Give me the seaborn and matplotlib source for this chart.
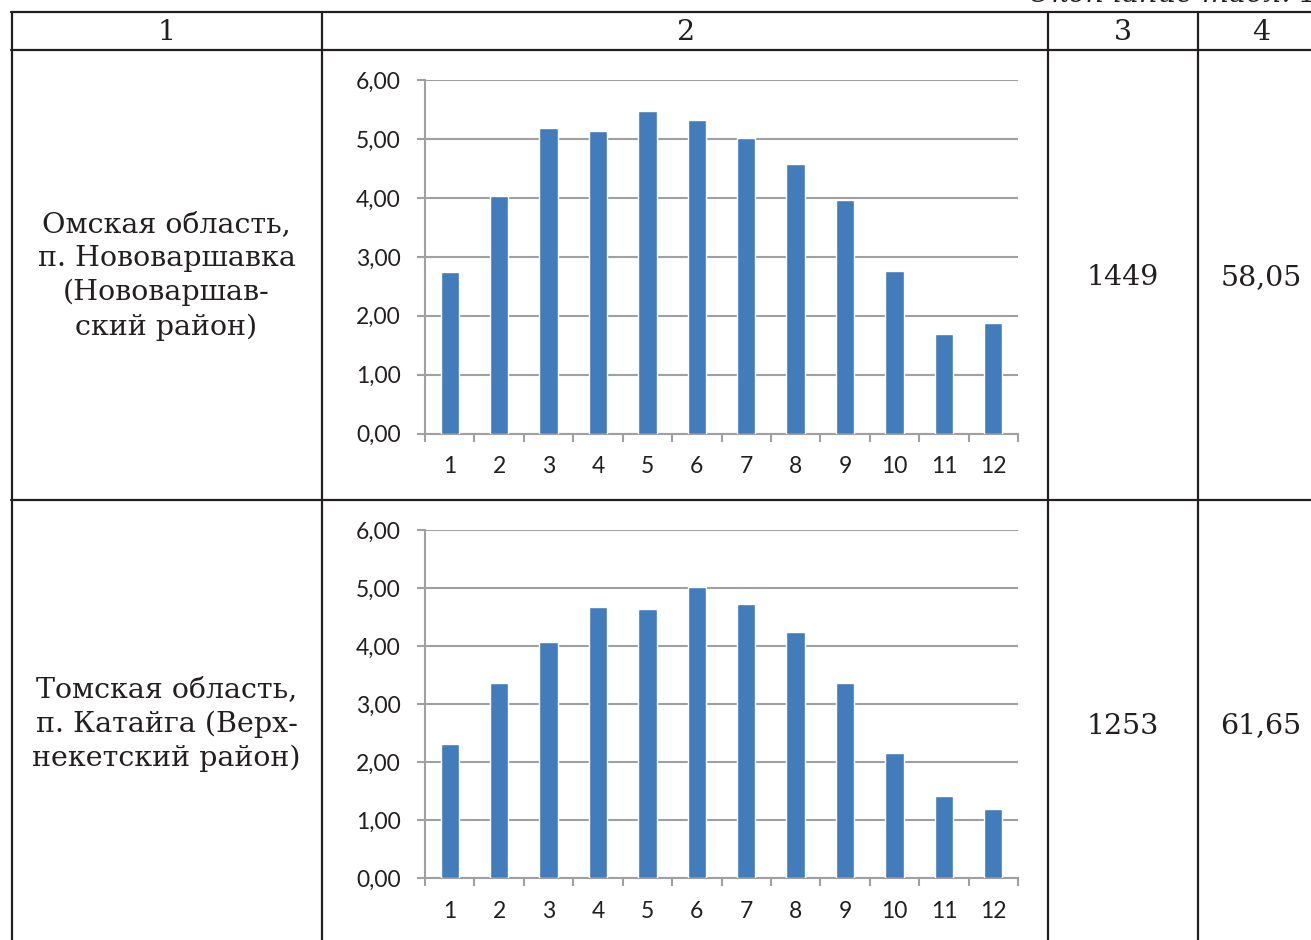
import matplotlib
matplotlib.use("Agg")
import matplotlib.pyplot as plt
from matplotlib.lines import Line2D
import seaborn as sns
import pandas as pd

# Monthly values for the two sites
months = [1, 2, 3, 4, 5, 6, 7, 8, 9, 10, 11, 12]
omsk_values = [2.74, 4.04, 5.19, 5.13, 5.47, 5.32, 5.02, 4.57, 3.97, 2.76, 1.69, 1.88]
tomsk_values = [2.31, 3.36, 4.07, 4.67, 4.64, 5.02, 4.72, 4.25, 3.36, 2.16, 1.41, 1.19]

y_ticks = [0, 1, 2, 3, 4, 5, 6]
y_tick_labels = ["0,00", "1,00", "2,00", "3,00", "4,00", "5,00", "6,00"]

header_labels = ["1", "2", "3", "4"]
site_names = [
    "Омская область,\nп. Нововаршавка\n(Нововаршав-\nский район)",
    "Томская область,\nп. Катайга (Верх-\nнекетский район)",
]
col3_values = ["1449", "1253"]
col4_values = ["58,05", "61,65"]
caption = "Окончание табл. 1"

W, H = 1311, 940
BAR = "#437CBB"
GRID = "#A0A0A0"
INK = "#231F20"

sns.set_theme(style="white")
plt.rcParams["font.family"] = ["DejaVu Serif"]

fig = plt.figure(figsize=(W / 100, H / 100), dpi=100)
fig.patch.set_facecolor("white")


def fx(x):
    return x / W


def fy(y):
    return 1 - y / H


# table rules
lw = 1.6
for y in (12, 49.5, 499.5):
    fig.add_artist(Line2D([fx(11), fx(W + 5)], [fy(y), fy(y)], color=INK, lw=lw))
for x in (11.5, 322, 1048, 1198):
    fig.add_artist(Line2D([fx(x), fx(x)], [fy(12), fy(H + 5)], color=INK, lw=lw))

# header row
serif_size = 20.5
for label, cx in zip(header_labels, (166.5, 685, 1123, 1261)):
    fig.text(fx(cx), fy(33), label, ha="center", va="center",
             fontsize=serif_size, color=INK)

# caption above the table
fig.text(fx(1318), fy(2), caption, ha="right", va="baseline",
         fontsize=serif_size, style="italic", color=INK)

# body cells
row_centers = [276, 724]
for name, v3, v4, cy in zip(site_names, col3_values, col4_values, row_centers):
    fig.text(fx(166.5), fy(cy), name, ha="center", va="center",
             fontsize=serif_size, color=INK, linespacing=1.33, multialignment="center")
    fig.text(fx(1123), fy(cy + 2), v3, ha="center", va="center",
             fontsize=serif_size, color=INK)
    fig.text(fx(1261), fy(cy + 2), v4, ha="center", va="center",
             fontsize=serif_size, color=INK)

# bar charts
chart_boxes = [(80, 433.7), (530, 878.3)]
for values, (top, bottom) in zip([omsk_values, tomsk_values], chart_boxes):
    ax = fig.add_axes([fx(425), fy(bottom), 593 / W, (bottom - top) / H])
    df = pd.DataFrame({"month": months, "value": values})
    sns.barplot(data=df, x="month", y="value", order=months, color=BAR,
                saturation=1, width=0.37, ax=ax, zorder=3)
    ax.set_xlim(-0.5, len(months) - 0.5)
    ax.set_ylim(0, 6)
    ax.set_xlabel("")
    ax.set_ylabel("")
    ax.set_facecolor("none")

    ax.set_yticks(y_ticks)
    ax.set_yticklabels(y_tick_labels)
    ax.yaxis.grid(True, color=GRID, lw=1.5, zorder=0)
    ax.set_axisbelow(True)

    ax.set_xticks(range(len(months)))
    ax.set_xticklabels([str(m) for m in months])
    ax.set_xticks([i - 0.5 for i in range(len(months) + 1)], minor=True)

    for side in ("top", "right"):
        ax.spines[side].set_visible(False)
    for side in ("left", "bottom"):
        ax.spines[side].set_color(GRID)
        ax.spines[side].set_linewidth(1.5)

    ax.tick_params(axis="y", which="major", length=5.5, width=1.5, color=GRID,
                   pad=12, labelsize=16.5, labelcolor=INK, left=True)
    ax.tick_params(axis="x", which="major", length=0, pad=16,
                   labelsize=16.5, labelcolor=INK)
    ax.tick_params(axis="x", which="minor", length=5.5, width=1.5, color=GRID,
                   bottom=True)
    for lab in ax.get_xticklabels() + ax.get_yticklabels():
        lab.set_fontfamily(["Lato", "DejaVu Sans"])

fig.savefig("out.png", dpi=100, facecolor="white")
